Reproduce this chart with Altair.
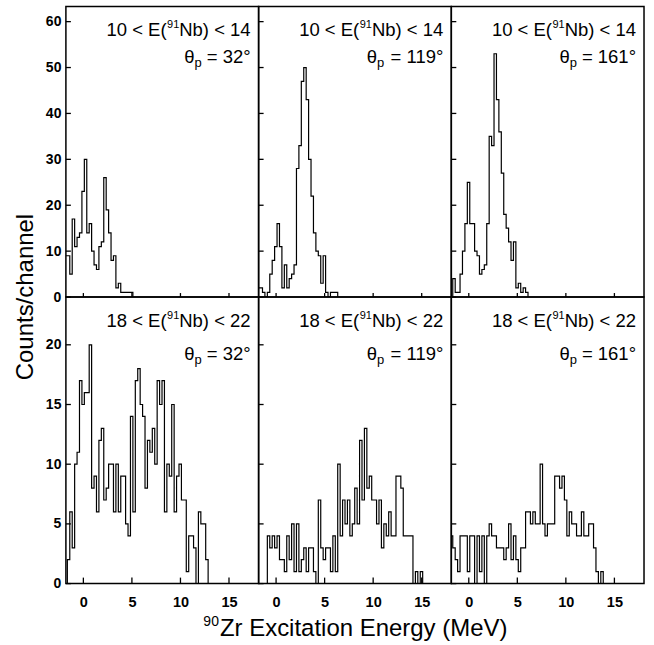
import altair as alt
import numpy as np
import pandas as pd

# ---- data (counts per 0.25 MeV channel, first channel starts at -1.9 MeV) ----
E0 = -1.9
BIN_W = 0.25

c_10_14_32 = [9, 9, 5, 17, 11, 13, 14, 23, 30, 14, 16, 10, 7, 6, 11, 12, 26, 19, 14, 8, 9, 2, 3, 1, 1, 1, 1, 1]
c_10_14_119 = [2, 2, 1, 0, 1, 5, 8, 11, 16, 11, 2, 7, 2, 4, 5, 7, 28, 33, 47, 50, 43, 30, 22, 14, 10, 9, 3, 9, 1, 0, 1, 1, 1]
c_10_14_161 = [0, 4, 1, 1, 5, 10, 16, 25, 16, 16, 10, 9, 5, 6, 7, 16, 35, 33, 53, 43, 36, 27, 18, 15, 12, 8, 12, 2, 3, 1, 2, 1]
c_18_22_32 = [0, 2, 6, 3, 10, 11, 17, 15, 16, 16, 20, 8, 9, 6, 12, 13, 7, 8, 10, 10, 6, 10, 6, 9, 9, 5, 4, 14, 6, 17,
              18, 15, 14, 8, 12, 11, 13, 10, 17, 15, 17, 6, 10, 9, 15, 6, 9, 10, 7, 7, 1, 4, 4, 3, 0, 6, 5, 5, 2]
c_18_22_119 = [0, 0, 0, 0, 4, 3, 4, 3, 4, 2, 2, 1, 4, 2, 5, 1, 5, 1, 2, 3, 1, 3, 3, 1, 0, 7, 3, 2, 3, 3, 1, 4, 1, 10,
               4, 7, 5, 7, 4, 5, 8, 5, 12, 7, 13, 8, 9, 7, 7, 5, 7, 3, 5, 4, 6, 4, 4, 9, 9, 8, 4, 4, 4, 4, 0, 1, 0, 1]
c_18_22_161 = [4, 3, 2, 1, 4, 4, 4, 1, 4, 4, 0, 4, 1, 4, 0, 4, 5, 4, 4, 3, 3, 3, 2, 3, 5, 2, 4, 2, 1, 3, 3, 6, 6, 5,
               6, 5, 5, 10, 5, 4, 5, 5, 5, 9, 9, 8, 9, 7, 4, 6, 5, 5, 4, 4, 6, 4, 4, 5, 5, 3, 1, 0, 1]

counts = [[c_10_14_32, c_10_14_119, c_10_14_161],
          [c_18_22_32, c_18_22_119, c_18_22_161]]

e_low = ["10", "18"]
e_high = ["14", "22"]
nucleus_a = "91"
nucleus = "Nb"
angles = ["32", "119", "161"]

x_ticks = [0, 5, 10, 15]
y_ticks = [[0, 10, 20, 30, 40, 50, 60], [0, 5, 10, 15, 20]]
X_DOMAIN = [-1.8, 18.05]
Y_DOMAINS = [[0, 63.3], [0, 24]]

x_title_mass = "90"
x_title_main = "Zr Excitation Energy (MeV)"
y_title = "Counts/channel"

PANEL_W = 193
PANEL_H = [291, 287]
FONT = "Liberation Sans"

# Arial / Liberation Sans advance widths (em) for text layout of super/subscripts
ADV = {' ': .278, '<': .584, '=': .584, '(': .333, ')': .333, '°': .4, 'θ': .556,
       'E': .667, 'N': .722, 'M': .833, 'V': .667, 'Z': .611,
       'a': .556, 'b': .556, 'c': .5, 'e': .556, 'g': .556, 'i': .222, 'n': .556,
       'o': .556, 'p': .556, 'r': .333, 't': .278, 'x': .5, 'y': .5}


def tw(s, size):
    return sum(ADV.get(ch, .556) for ch in s) * size


def step_frame(vals):
    n = len(vals)
    edges = E0 + BIN_W * np.arange(n + 1)
    xs = [edges[0]] + list(edges[:n]) + [edges[n]]
    ys = [0] + list(vals) + [0]
    return pd.DataFrame({"E": xs, "N": ys, "i": np.arange(len(xs))})


def txt(s, x, y, size, align="right", angle=None):
    kw = dict(align=align, baseline="alphabetic", fontSize=size, font=FONT, color="black")
    if angle is not None:
        kw["angle"] = angle
        kw["baseline"] = "middle"
    return alt.Chart(pd.DataFrame({"t": [s]})).mark_text(**kw).encode(
        text="t:N", x=alt.value(x), y=alt.value(y))


def panel(row, col):
    H = PANEL_H[row]
    xs = alt.Scale(domain=X_DOMAIN, nice=False, zero=False)
    ys = alt.Scale(domain=Y_DOMAINS[row], nice=False, zero=False)
    bottom = row == 1
    left = col == 0

    if bottom:
        x_axis = alt.Axis(values=x_ticks, ticks=False, tickSize=0, domain=False, grid=False,
                          labelFontSize=14.5, labelFontWeight="bold", labelPadding=12,
                          labelColor="black", labelFont=FONT, title=None)
    else:
        x_axis = None
    if left:
        y_axis = alt.Axis(values=y_ticks[row], ticks=False, tickSize=0, domain=False, grid=False,
                          labelFontSize=14, labelFontWeight="bold", labelPadding=5,
                          labelColor="black", labelFont=FONT, title=None)
    else:
        y_axis = None

    X = lambda f: alt.X(f, scale=xs, axis=x_axis)
    Y = lambda f: alt.Y(f, scale=ys, axis=y_axis)

    line = alt.Chart(step_frame(counts[row][col])).mark_line(
        interpolate="step-after", color="black", strokeWidth=1.2, clip=True
    ).encode(x=X("E:Q"), y=Y("N:Q"), order="i:Q")

    ytk = alt.Chart(pd.DataFrame({"N": y_ticks[row]})).mark_rule(
        color="black", strokeWidth=1.3
    ).encode(y=Y("N:Q"), x=alt.value(0), x2=alt.value(5))

    tl = 6 if bottom else 4
    xtk = alt.Chart(pd.DataFrame({"E": x_ticks})).mark_rule(
        color="black", strokeWidth=1.3
    ).encode(x=X("E:Q"), y=alt.value(H), y2=alt.value(H - tl))

    layers = [line, ytk, xtk]

    # line 1: "10 < E(^91Nb) < 14"
    R = 185
    F, S = 18.5, 11
    b1 = 30
    a_txt = nucleus + ") < " + e_high[row]
    c_txt = e_low[row] + " < E("
    xa = R
    xb = xa - tw(a_txt, F)
    xc = xb - tw(nucleus_a, S) - 0.5
    layers += [txt(a_txt, xa, b1, F), txt(nucleus_a, xb, b1 - 8, S), txt(c_txt, xc, b1, F)]

    # line 2: "θ_p = 32°"
    b2 = 57 if row == 0 else 63
    d_txt = "= " + angles[col] + "°"
    xd = R
    xe = xd - tw(d_txt, F) - 5
    xf = xe - tw("p", 13)
    layers += [txt(d_txt, xd, b2, F), txt("p", xe, b2 + 4, 13), txt("θ", xf, b2, F)]

    if row == 0 and col == 0:
        layers.append(txt(y_title, -40, H, 24, align="center", angle=270))
    if row == 1 and col == 1:
        wm = tw(x_title_main, 24)
        wsup = tw(x_title_mass, 14)
        start = PANEL_W / 2 - (wm + wsup) / 2
        layers += [txt(x_title_mass, start, 329, 14, align="left"),
                   txt(x_title_main, start + wsup + 1, 339, 24, align="left")]

    return alt.layer(*layers).properties(width=PANEL_W, height=H)


panels = [panel(r, c) for r in range(2) for c in range(3)]

chart = alt.concat(*panels, columns=3, spacing=0, bounds="flush").properties(
    padding={"left": 13, "top": 5, "right": 9, "bottom": 5},
).configure(font=FONT).configure_view(stroke="black", strokeWidth=1.5)

chart.save("out.html", embed_options={"renderer": "svg", "actions": False})
